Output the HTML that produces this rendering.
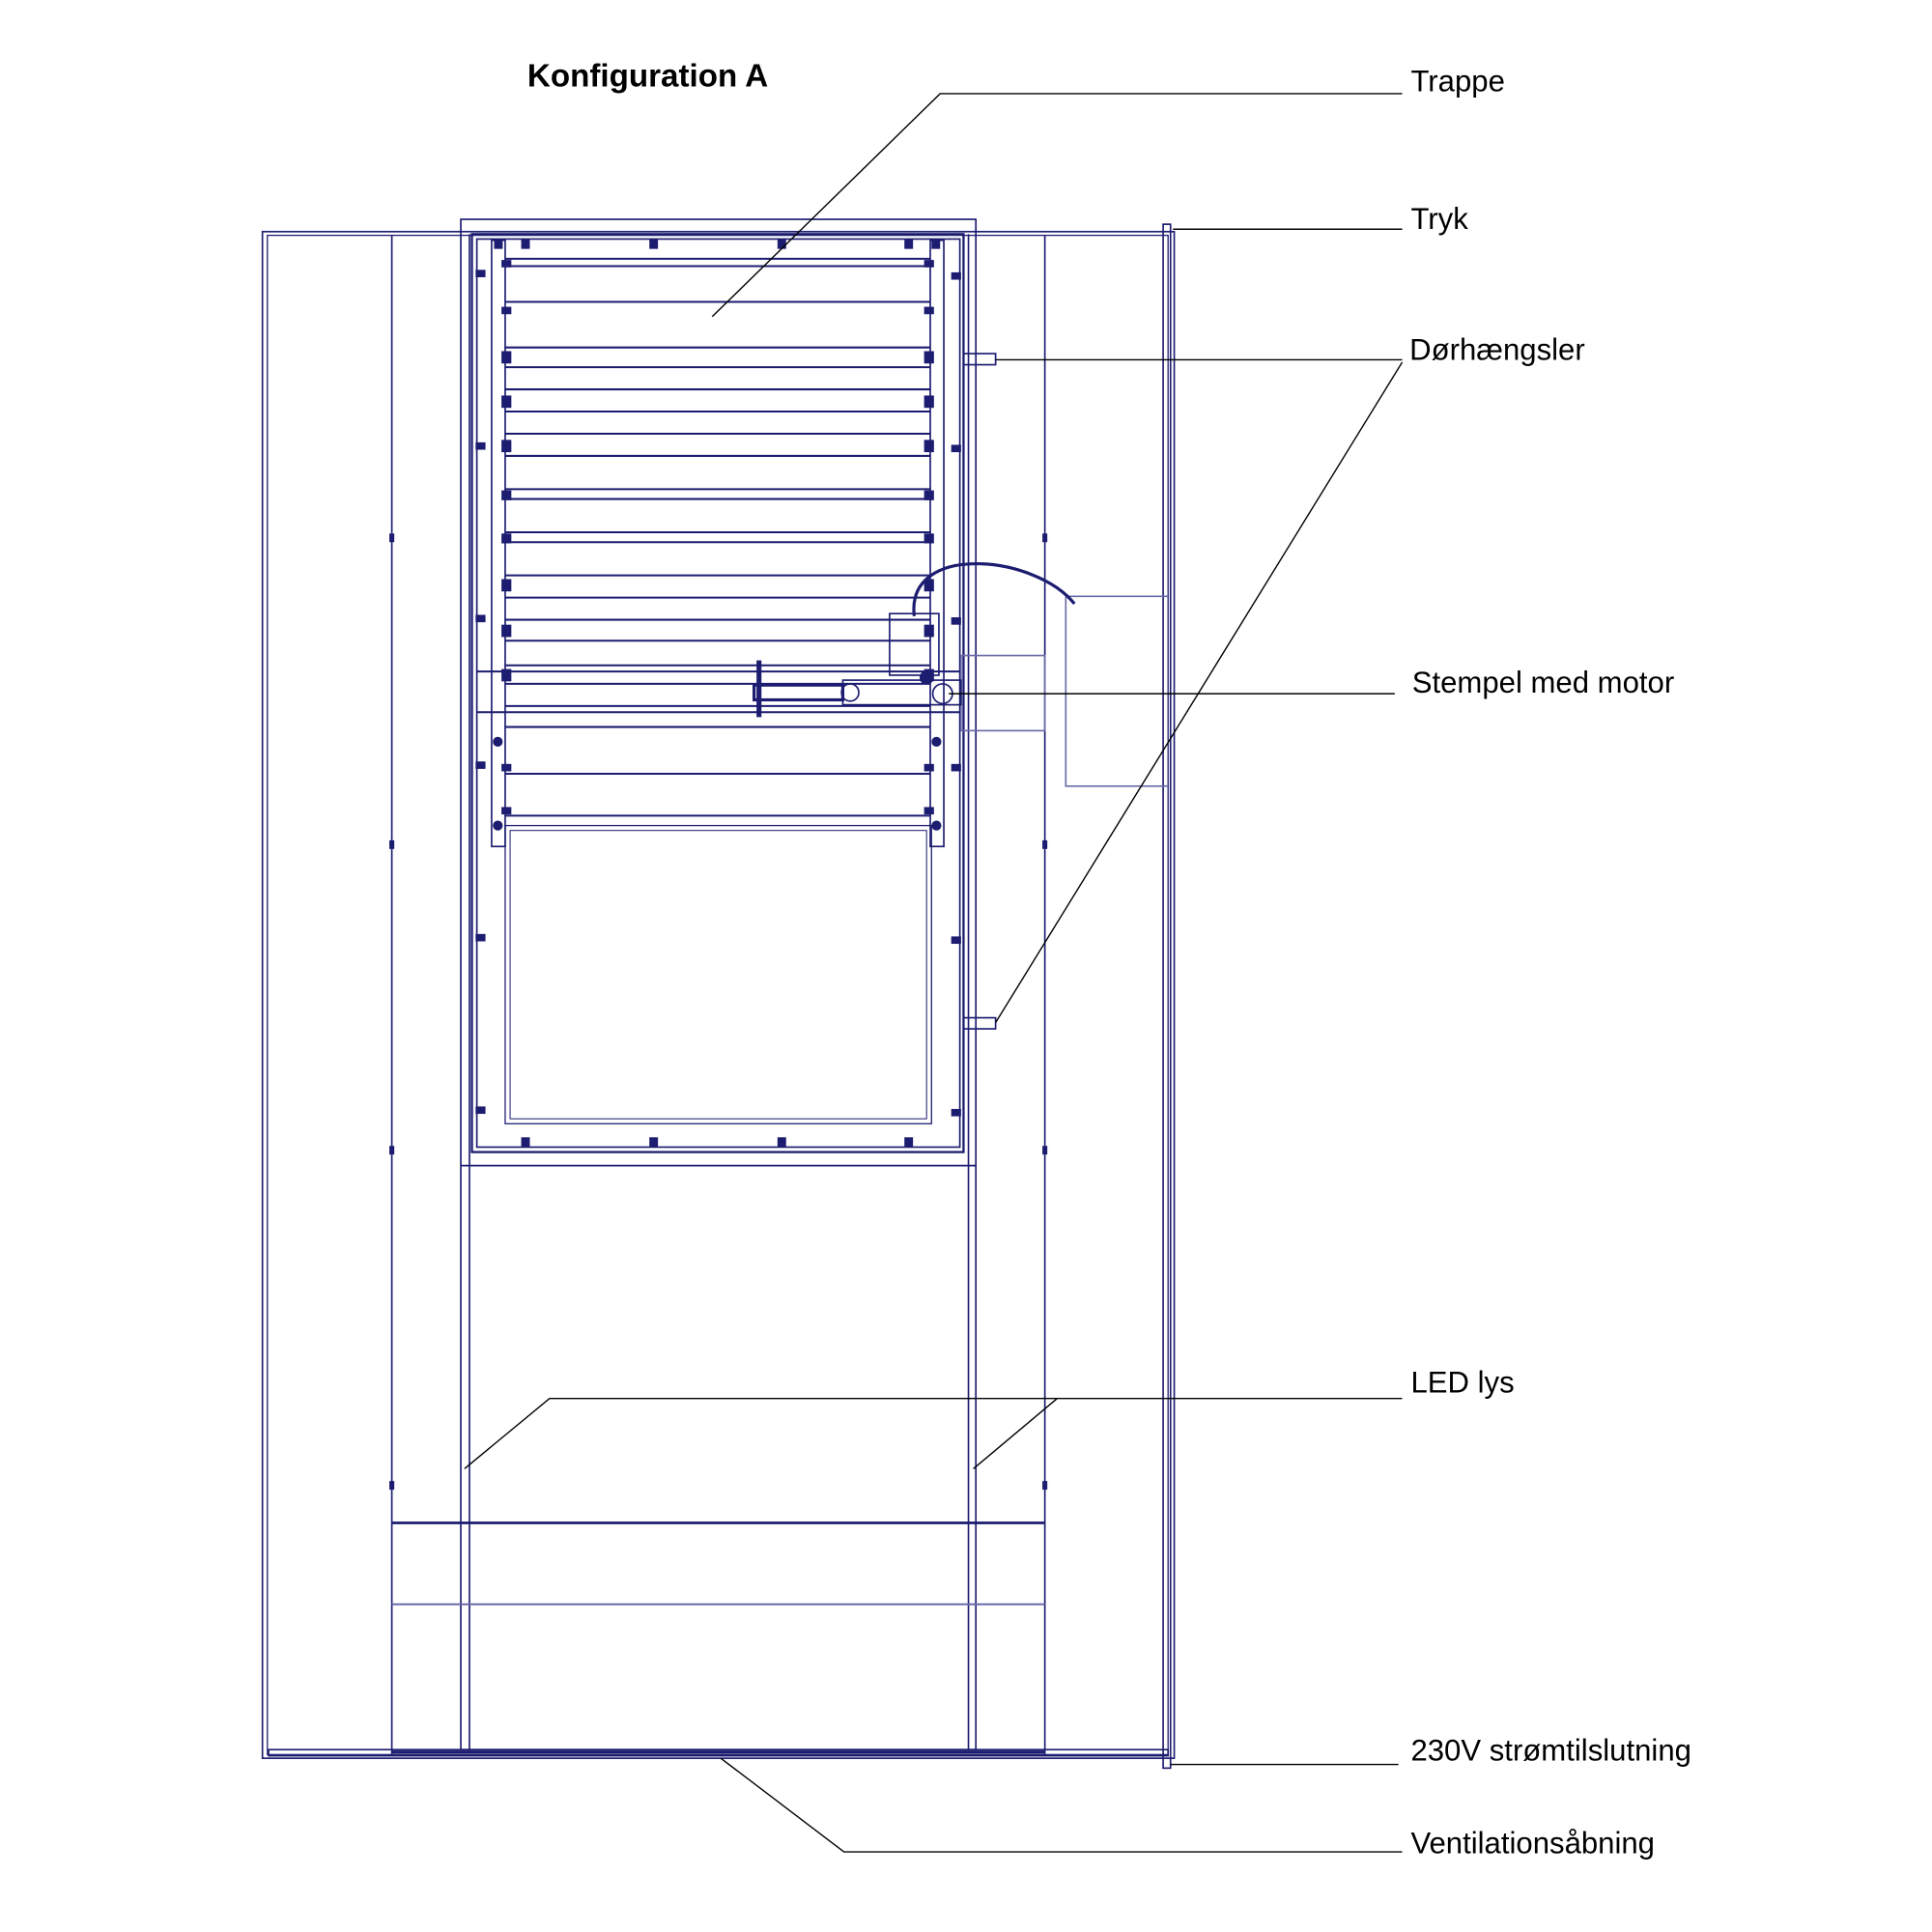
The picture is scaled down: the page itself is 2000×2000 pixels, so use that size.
<!DOCTYPE html>
<html><head><meta charset="utf-8"><style>
html,body{margin:0;padding:0;background:#fff;width:2000px;height:2000px;overflow:hidden}
svg{display:block}
text{font-family:"Liberation Sans",Arial,sans-serif;fill:#000}
</style></head><body>
<svg width="2000" height="2000" viewBox="0 0 1568 1568" xmlns="http://www.w3.org/2000/svg">
<g fill="none" stroke="#1c1c70" stroke-width="1.3">
<rect x="213" y="188" width="740" height="1239"/>
<rect x="217" y="191" width="731" height="1233" stroke-width="1"/>
<line x1="318" y1="191" x2="318" y2="1424"/>
<line x1="848" y1="191" x2="848" y2="1424"/>
<rect x="944" y="182" width="6" height="1253"/>
<rect x="374" y="178" width="418" height="1242"/>
<line x1="381" y1="190" x2="381" y2="1420"/>
<line x1="786" y1="190" x2="786" y2="1420"/>
<line x1="374" y1="946" x2="792" y2="946"/>
<rect x="383" y="190" width="399" height="745" stroke-width="1.8"/>
<rect x="387" y="194" width="392" height="737"/>
<rect x="399" y="195" width="11" height="492"/>
<rect x="755" y="195" width="11" height="492"/>
<rect x="410" y="670" width="346" height="242" stroke-width="1"/>
<rect x="414" y="674" width="338" height="234" stroke-width="0.8"/>
<g stroke-width="1.6">
<line x1="410" y1="210" x2="755" y2="210"/><line x1="410" y1="216" x2="755" y2="216"/>
<line x1="410" y1="245" x2="755" y2="245"/><line x1="410" y1="282" x2="755" y2="282"/>
<line x1="410" y1="298" x2="755" y2="298"/><line x1="410" y1="316" x2="755" y2="316"/>
<line x1="410" y1="334" x2="755" y2="334"/><line x1="410" y1="352" x2="755" y2="352"/>
<line x1="410" y1="370" x2="755" y2="370"/><line x1="410" y1="397" x2="755" y2="397"/>
<line x1="410" y1="405" x2="755" y2="405"/><line x1="410" y1="432" x2="755" y2="432"/>
<line x1="410" y1="440" x2="755" y2="440"/><line x1="410" y1="467" x2="755" y2="467"/>
<line x1="410" y1="485" x2="755" y2="485"/><line x1="410" y1="503" x2="755" y2="503"/>
<line x1="410" y1="520" x2="755" y2="520"/><line x1="410" y1="540" x2="755" y2="540"/>
<line x1="387" y1="545" x2="779" y2="545"/><line x1="410" y1="555" x2="755" y2="555"/>
<line x1="410" y1="573" x2="755" y2="573"/><line x1="387" y1="578" x2="779" y2="578"/>
<line x1="410" y1="590" x2="755" y2="590"/><line x1="410" y1="628" x2="755" y2="628"/>
<line x1="410" y1="662" x2="755" y2="662"/>
</g>
<g fill="#1c1c70" stroke="none">
<rect x="407" y="211" width="8" height="6"/><rect x="750" y="211" width="8" height="6"/>
<rect x="407" y="249" width="8" height="6"/><rect x="750" y="249" width="8" height="6"/>
<rect x="407" y="285" width="8" height="10"/><rect x="750" y="285" width="8" height="10"/>
<rect x="407" y="321" width="8" height="10"/><rect x="750" y="321" width="8" height="10"/>
<rect x="407" y="357" width="8" height="10"/><rect x="750" y="357" width="8" height="10"/>
<rect x="407" y="398" width="8" height="8"/><rect x="750" y="398" width="8" height="8"/>
<rect x="407" y="433" width="8" height="8"/><rect x="750" y="433" width="8" height="8"/>
<rect x="407" y="470" width="8" height="10"/><rect x="750" y="470" width="8" height="10"/>
<rect x="407" y="507" width="8" height="10"/><rect x="750" y="507" width="8" height="10"/>
<rect x="407" y="543" width="8" height="10"/><rect x="750" y="543" width="8" height="10"/>
<rect x="407" y="620" width="8" height="6"/><rect x="750" y="620" width="8" height="6"/>
<rect x="407" y="655" width="8" height="6"/><rect x="750" y="655" width="8" height="6"/>
<circle cx="404" cy="602" r="4"/><circle cx="760" cy="602" r="4"/>
<circle cx="404" cy="670" r="4"/><circle cx="760" cy="670" r="4"/>
<rect x="386" y="219" width="8" height="6"/><rect x="772" y="221" width="8" height="6"/>
<rect x="386" y="359" width="8" height="6"/><rect x="772" y="361" width="8" height="6"/>
<rect x="386" y="499" width="8" height="6"/><rect x="772" y="501" width="8" height="6"/>
<rect x="386" y="618" width="8" height="6"/><rect x="772" y="620" width="8" height="6"/>
<rect x="386" y="758" width="8" height="6"/><rect x="772" y="760" width="8" height="6"/>
<rect x="386" y="898" width="8" height="6"/><rect x="772" y="900" width="8" height="6"/>
<rect x="401" y="194" width="7" height="8"/><rect x="423" y="194" width="7" height="8"/><rect x="527" y="194" width="7" height="8"/><rect x="631" y="194" width="7" height="8"/><rect x="734" y="194" width="7" height="8"/><rect x="756" y="194" width="7" height="8"/>
<rect x="423" y="923" width="7" height="8"/><rect x="527" y="923" width="7" height="8"/><rect x="631" y="923" width="7" height="8"/><rect x="734" y="923" width="7" height="8"/>
<rect x="316" y="433" width="4" height="7"/><rect x="316" y="682" width="4" height="7"/><rect x="316" y="930" width="4" height="7"/><rect x="316" y="1202" width="4" height="7"/>
<rect x="846" y="433" width="4" height="7"/><rect x="846" y="682" width="4" height="7"/><rect x="846" y="930" width="4" height="7"/><rect x="846" y="1202" width="4" height="7"/>
</g>
<rect x="782" y="287" width="26" height="9"/>
<rect x="782" y="826" width="26" height="9"/>
<line x1="318" y1="1236" x2="848" y2="1236" stroke-width="2.2"/>
<line x1="318" y1="1302" x2="848" y2="1302" stroke-width="1.6" stroke="#6a6aa8"/>
<rect x="218" y="1420" width="730" height="5"/>
<line x1="318" y1="1422" x2="848" y2="1422" stroke-width="2.5"/>
<path d="M865 484 H948 M865 484 V638 H948" stroke="#6a6aa8"/>
<rect x="780" y="532" width="68" height="61" stroke="#6a6aa8"/>
<path d="M742 500 C735 440 840 450 872 490" stroke-width="2.5"/>
<rect x="722" y="498" width="40" height="50"/>
<rect x="612" y="556" width="72" height="12" stroke-width="2.5"/>
<line x1="616" y1="536" x2="616" y2="582" stroke-width="4"/>
<rect x="684" y="552" width="96" height="20"/>
<circle cx="690" cy="562" r="7"/><circle cx="765" cy="563" r="8"/><circle cx="752" cy="550" r="5" fill="#1c1c70"/>
</g>
<g fill="none" stroke="#000" stroke-width="1.1">
<polyline points="578,257 763,76 1138,76"/>
<line x1="952" y1="186" x2="1138" y2="186"/>
<line x1="808" y1="292" x2="1138" y2="292"/>
<line x1="1138" y1="294" x2="808" y2="830"/>
<line x1="770" y1="563" x2="1132" y2="563"/>
<polyline points="377,1192 446,1135 1138,1135"/>
<line x1="790" y1="1192" x2="858" y2="1135"/>
<line x1="950" y1="1432" x2="1135" y2="1432"/>
<polyline points="585,1427 685,1503 1138,1503"/>
</g>
<text x="428" y="70" font-size="26" font-weight="bold">Konfiguration A</text>
<g font-size="24.4">
<text x="1145" y="74">Trappe</text>
<text x="1145" y="186">Tryk</text>
<text x="1144" y="292">Dørhængsler</text>
<text x="1146" y="562">Stempel med motor</text>
<text x="1145" y="1130">LED lys</text>
<text x="1145" y="1429">230V strømtilslutning</text>
<text x="1145" y="1504">Ventilationsåbning</text>
</g>
</svg>
</body></html>
